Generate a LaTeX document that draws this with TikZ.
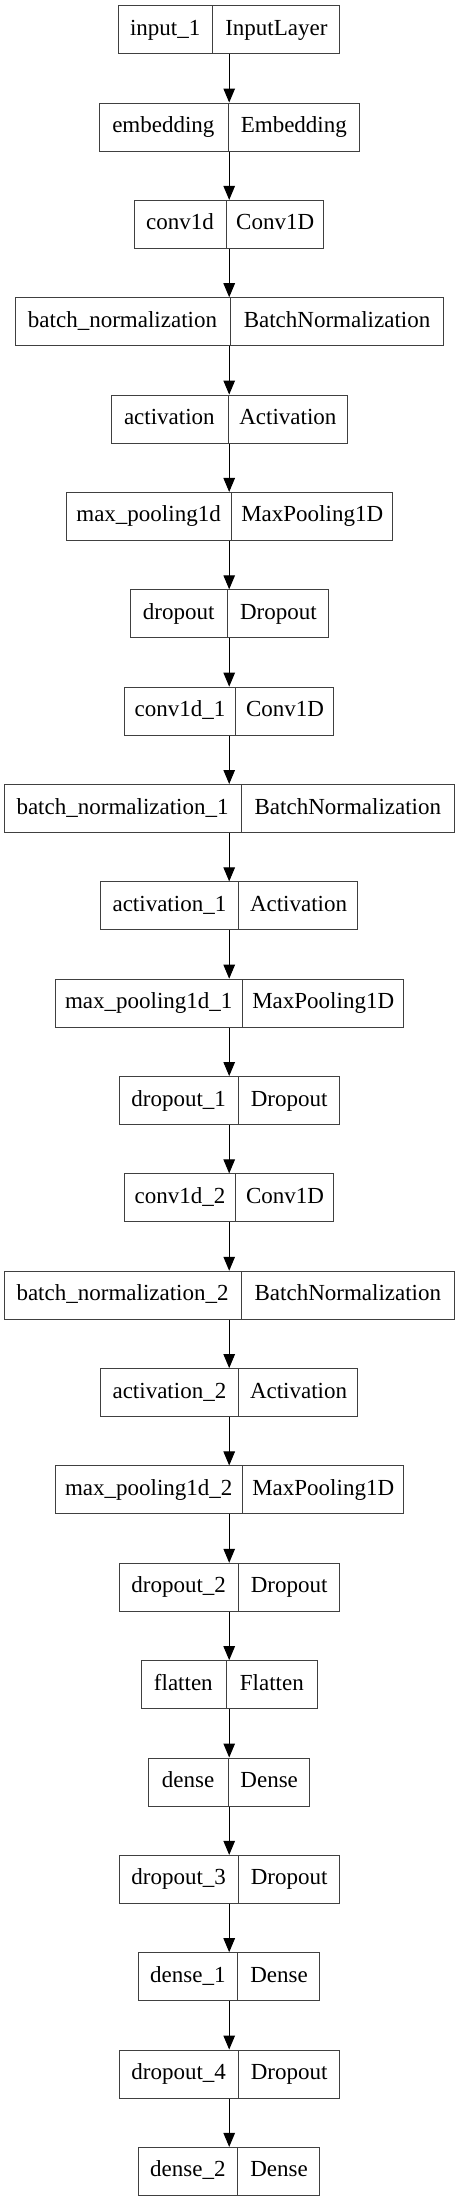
\documentclass[tikz,border=0pt]{standalone}
\usepackage{fontspec}
\setmainfont{Liberation Serif}
\usetikzlibrary{shapes.multipart,arrows.meta}

% both halves of a layer box: fixed height, fixed width of each half
\newcommand{\lstrut}{\vrule height 29.5bp depth 18.5bp width 0pt}
\newcommand{\layertext}[4]{\lstrut\makebox[#1bp]{#2}\nodepart{two}\lstrut\makebox[#3bp]{#4}}

\begin{document}
\begin{tikzpicture}[x=1bp,y=1bp,
    layer/.style={rectangle split, rectangle split horizontal, rectangle split parts=2,
        draw=black!75, line width=1bp, inner xsep=0pt, inner ysep=0pt,
        font=\fontsize{23bp}{28bp}\selectfont},
    flow/.style={-{Triangle[length=14bp,width=11.5bp]}, line width=1bp, black}]
    \useasboundingbox (0,0) rectangle (459,-2201);

    % layers
    \node[layer] (input) at (229.2,-29.7) {\layertext{93.3}{input\_1}{127}{InputLayer}};
    \node[layer] (emb) at (229.2,-127.05) {\layertext{128.3}{embedding}{130.7}{Embedding}};
    \node[layer] (conv) at (229.2,-224.4) {\layertext{91}{conv1d}{97.3}{Conv1D}};
    \node[layer] (bn) at (229.2,-321.75) {\layertext{214.6}{batch\_normalization}{212.4}{BatchNormalization}};
    \node[layer] (act) at (229.2,-419.1) {\layertext{116.3}{activation}{118.7}{Activation}};
    \node[layer] (pool) at (229.2,-516.45) {\layertext{165}{max\_pooling1d}{160.3}{MaxPooling1D}};
    \node[layer] (drop) at (229.2,-613.8) {\layertext{97.3}{dropout}{100}{Dropout}};
    \node[layer] (conv1) at (229.2,-711.15) {\layertext{110.7}{conv1d\_1}{97.6}{Conv1D}};
    \node[layer] (bn1) at (229.2,-808.5) {\layertext{236.3}{batch\_normalization\_1}{212.3}{BatchNormalization}};
    \node[layer] (act1) at (229.2,-905.85) {\layertext{137.7}{activation\_1}{118.6}{Activation}};
    \node[layer] (pool1) at (229.2,-1003.2) {\layertext{187}{max\_pooling1d\_1}{160}{MaxPooling1D}};
    \node[layer] (drop1) at (229.2,-1100.55) {\layertext{119}{dropout\_1}{100}{Dropout}};
    \node[layer] (conv2) at (229.2,-1197.9) {\layertext{110.7}{conv1d\_2}{97.6}{Conv1D}};
    \node[layer] (bn2) at (229.2,-1295.25) {\layertext{236.3}{batch\_normalization\_2}{212.3}{BatchNormalization}};
    \node[layer] (act2) at (229.2,-1392.6) {\layertext{137.7}{activation\_2}{118.6}{Activation}};
    \node[layer] (pool2) at (229.2,-1489.95) {\layertext{187}{max\_pooling1d\_2}{160}{MaxPooling1D}};
    \node[layer] (drop2) at (229.2,-1587.3) {\layertext{119}{dropout\_2}{100}{Dropout}};
    \node[layer] (flat) at (229.2,-1684.65) {\layertext{84.3}{flatten}{90.7}{Flatten}};
    \node[layer] (dense) at (229.2,-1782.0) {\layertext{79}{dense}{81.3}{Dense}};
    \node[layer] (drop3) at (229.2,-1879.35) {\layertext{119}{dropout\_3}{100}{Dropout}};
    \node[layer] (dense1) at (229.2,-1976.7) {\layertext{98.7}{dense\_1}{81.6}{Dense}};
    \node[layer] (drop4) at (229.2,-2074.05) {\layertext{119}{dropout\_4}{100}{Dropout}};
    \node[layer] (dense2) at (229.2,-2171.4) {\layertext{98.7}{dense\_2}{81.6}{Dense}};

    % connections
    \draw[flow] (input.south) -- (emb.north);
    \draw[flow] (emb.south) -- (conv.north);
    \draw[flow] (conv.south) -- (bn.north);
    \draw[flow] (bn.south) -- (act.north);
    \draw[flow] (act.south) -- (pool.north);
    \draw[flow] (pool.south) -- (drop.north);
    \draw[flow] (drop.south) -- (conv1.north);
    \draw[flow] (conv1.south) -- (bn1.north);
    \draw[flow] (bn1.south) -- (act1.north);
    \draw[flow] (act1.south) -- (pool1.north);
    \draw[flow] (pool1.south) -- (drop1.north);
    \draw[flow] (drop1.south) -- (conv2.north);
    \draw[flow] (conv2.south) -- (bn2.north);
    \draw[flow] (bn2.south) -- (act2.north);
    \draw[flow] (act2.south) -- (pool2.north);
    \draw[flow] (pool2.south) -- (drop2.north);
    \draw[flow] (drop2.south) -- (flat.north);
    \draw[flow] (flat.south) -- (dense.north);
    \draw[flow] (dense.south) -- (drop3.north);
    \draw[flow] (drop3.south) -- (dense1.north);
    \draw[flow] (dense1.south) -- (drop4.north);
    \draw[flow] (drop4.south) -- (dense2.north);
\end{tikzpicture}
\end{document}
